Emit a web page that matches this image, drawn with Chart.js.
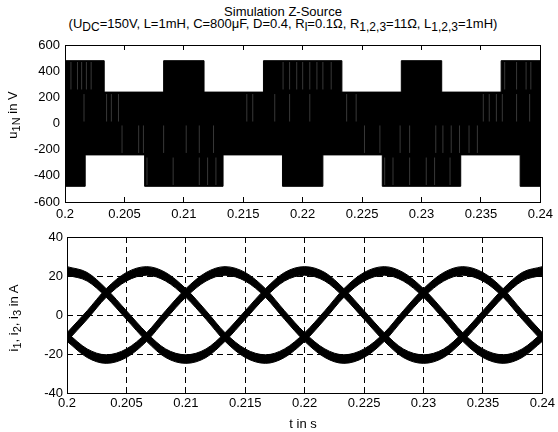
<!DOCTYPE html>
<html>
<head>
<meta charset="utf-8">
<script src="https://cdn.jsdelivr.net/npm/chart.js@4.4.1/dist/chart.umd.min.js"></script>
<style>
  body { margin: 0; background: #fff; }
  #figure { position: relative; width: 558px; height: 432px; background: #fff; overflow: hidden; }
  #figure canvas { position: absolute; left: 0; }
  .lbl { position: absolute; font-family: 'Liberation Sans', Arial, Helvetica, sans-serif; font-size: 13px; line-height: 13px; color: #000; white-space: nowrap; }
  .sub { font-size: 11px; position: relative; top: 3px; }
  .title .sub { font-size: 12px; }
  .rot { transform: translate(-50%, -50%) rotate(-90deg); }
</style>
</head>
<body>
<div id="figure">
  <div class="lbl title" style="left:0; width:566px; top:6px; line-height:12px; text-align:center;">
    Simulation Z-Source<br>
    (U<span class="sub">DC</span>=150V, L=1mH, C=800μF, D=0.4, R<span class="sub">l</span>=0.1Ω, R<span class="sub">1,2,3</span>=11Ω, L<span class="sub">1,2,3</span>=1mH)
  </div>
  <canvas id="voltage" width="558" height="222" style="top:0"></canvas>
  <canvas id="current" width="558" height="210" style="top:222px"></canvas>
  <div class="lbl rot" style="left:13px; top:115px;">u<span class="sub">1N</span> in V</div>
  <div class="lbl rot" style="left:14px; top:318px;">i<span class="sub">1</span>, i<span class="sub">2</span>, i<span class="sub">3</span> in A</div>
  <div class="lbl" style="left:303px; top:417px; transform:translateX(-50%);">t in s</div>
</div>
<script>
// axis ticks
const timeTicks = [0.2, 0.205, 0.21, 0.215, 0.22, 0.225, 0.23, 0.235, 0.24];
const voltTicks = [-600, -400, -200, 0, 200, 400, 600];
const ampTicks = [-40, -20, 0, 20, 40];

// phase voltage u1N: outer edges of the PWM pattern (value holds from its time on)
const uTopT = [0.2, 0.2033, 0.2083, 0.2117, 0.2167, 0.2233, 0.2283, 0.2317, 0.2367, 0.24];
const uTopV = [480, 240, 480, 240, 480, 240, 480, 240, 480, 480];
const uBotT = [0.2, 0.2017, 0.2067, 0.2133, 0.2183, 0.2217, 0.2267, 0.2333, 0.2383, 0.24];
const uBotV = [-480, -240, -480, -240, -480, -240, -480, -240, -480, -480];

// sparse switching gaps inside the pattern, grouped by voltage band
const gaps480 = [0.2005, 0.20105, 0.2014, 0.2018, 0.2022, 0.21835, 0.2189, 0.2195, 0.2200, 0.2206, 0.2212, 0.2217, 0.2224, 0.2370, 0.2380, 0.2388, 0.2392];
const gaps240 = [0.2016, 0.2035, 0.2039, 0.2045, 0.2153, 0.2158, 0.21765, 0.2189, 0.2206, 0.2237, 0.2245, 0.2352, 0.2357, 0.2363, 0.2368, 0.2380, 0.2391];
const gapsM240 = [0.2048, 0.2062, 0.2066, 0.2083, 0.2102, 0.2113, 0.2125, 0.2252, 0.2265, 0.2282, 0.2290, 0.2312, 0.2318, 0.2325, 0.2332, 0.2340, 0.2347];
const gapsM480 = [0.2069, 0.2091, 0.2113, 0.2120, 0.2127, 0.2269, 0.2276, 0.2290, 0.2304, 0.2311, 0.2324];

// phase currents: upper and lower edge of each ripple band
const tSamples = [0.2, 0.2017, 0.2033, 0.205, 0.2067, 0.2083, 0.21, 0.2117, 0.2133, 0.215, 0.2167, 0.2183,
  0.22, 0.2217, 0.2233, 0.225, 0.2267, 0.2283, 0.23, 0.2317, 0.2333, 0.235, 0.2367, 0.2383, 0.24];
const i1Hi = [24.8, 21.8, 13.5, 2.2, -9.1, -17.4, -20.4, -17.4, -9.1, 2.2, 13.5, 21.8, 24.8, 21.8, 13.5, 2.2, -9.1, -17.4, -20.4, -17.4, -9.1, 2.2, 13.5, 21.8, 24.8];
const i1Lo = [20.4, 17.4, 9.1, -2.2, -13.5, -21.8, -24.8, -21.8, -13.5, -2.2, 9.1, 17.4, 20.4, 17.4, 9.1, -2.2, -13.5, -21.8, -24.8, -21.8, -13.5, -2.2, 9.1, 17.4, 20.4];
const i2Hi = [-9.1, 2.2, 13.5, 21.8, 24.8, 21.8, 13.5, 2.2, -9.1, -17.4, -20.4, -17.4, -9.1, 2.2, 13.5, 21.8, 24.8, 21.8, 13.5, 2.2, -9.1, -17.4, -20.4, -17.4, -9.1];
const i2Lo = [-13.5, -2.2, 9.1, 17.4, 20.4, 17.4, 9.1, -2.2, -13.5, -21.8, -24.8, -21.8, -13.5, -2.2, 9.1, 17.4, 20.4, 17.4, 9.1, -2.2, -13.5, -21.8, -24.8, -21.8, -13.5];
const i3Hi = [-9.1, -17.4, -20.4, -17.4, -9.1, 2.2, 13.5, 21.8, 24.8, 21.8, 13.5, 2.2, -9.1, -17.4, -20.4, -17.4, -9.1, 2.2, 13.5, 21.8, 24.8, 21.8, 13.5, 2.2, -9.1];
const i3Lo = [-13.5, -21.8, -24.8, -21.8, -13.5, -2.2, 9.1, 17.4, 20.4, 17.4, 9.1, -2.2, -13.5, -21.8, -24.8, -21.8, -13.5, -2.2, 9.1, 17.4, 20.4, 17.4, 9.1, -2.2, -13.5];

const FONT = { family: "'Liberation Sans', Arial, Helvetica, sans-serif", size: 13 };

const pts = (xs, ys) => xs.map((x, k) => ({ x, y: ys[k] }));

// vertical segments from lo to hi at each time, separated by gaps
function streaks(times, lo, hi) {
  const out = [];
  times.forEach(t => { out.push({ x: t, y: lo }, { x: t, y: hi }, { x: t, y: null }); });
  return out;
}

const crisp = p => Math.round(p - 0.5) + 0.5;

// box around the plot area with inward tick marks on all four sides
const frame = {
  id: 'frame',
  afterDatasetsDraw(chart) {
    const { ctx, chartArea: a, scales: { x, y } } = chart;
    const len = 5;
    ctx.save();
    ctx.strokeStyle = '#000';
    ctx.lineWidth = 1;
    ctx.setLineDash([]);
    ctx.beginPath();
    x.ticks.forEach(t => {
      const px = crisp(x.getPixelForValue(t.value));
      ctx.moveTo(px, a.bottom); ctx.lineTo(px, a.bottom - len);
      ctx.moveTo(px, a.top); ctx.lineTo(px, a.top + len);
    });
    y.ticks.forEach(t => {
      const py = crisp(y.getPixelForValue(t.value));
      ctx.moveTo(a.left, py); ctx.lineTo(a.left + len, py);
      ctx.moveTo(a.right, py); ctx.lineTo(a.right - len, py);
    });
    ctx.stroke();
    const l = crisp(a.left), r = crisp(a.right), tp = crisp(a.top), b = crisp(a.bottom);
    ctx.strokeRect(l, tp, r - l, b - tp);
    ctx.restore();
  }
};

function axes(opts) {
  return {
    x: {
      type: 'linear', min: 0.2, max: 0.24,
      afterBuildTicks: s => { s.ticks = timeTicks.map(v => ({ value: v })); },
      afterFit: s => { s.height = opts.xHeight; },
      ticks: { color: '#000', font: FONT, padding: opts.xPad, autoSkip: false, maxRotation: 0, callback: v => String(v) },
      grid: opts.grid ? { color: '#000', lineWidth: 1, drawTicks: false } : { display: false, drawTicks: false },
      border: { display: false, dash: [6, 4] }
    },
    y: {
      type: 'linear', min: opts.yTicks[0], max: opts.yTicks[opts.yTicks.length - 1],
      afterBuildTicks: s => { s.ticks = opts.yTicks.map(v => ({ value: v })); },
      afterFit: s => { s.width = opts.yWidth; },
      ticks: { color: '#000', font: FONT, padding: opts.yPad, autoSkip: false, callback: v => String(v) },
      grid: opts.grid ? { color: '#000', lineWidth: 1, drawTicks: false } : { display: false, drawTicks: false },
      border: { display: false, dash: [6, 4] }
    }
  };
}

const common = {
  responsive: false,
  animation: false,
  events: [],
  plugins: { legend: { display: false }, tooltip: { enabled: false } }
};

const streakStyle = { borderColor: '#383838', borderWidth: 1, pointRadius: 0, spanGaps: false, fill: false, order: 0 };

// upper plot: PWM phase voltage (upper fill runs a little past zero so the two areas overlap)
new Chart(document.getElementById('voltage'), {
  type: 'line',
  data: {
    datasets: [
      { data: pts(uTopT, uTopV), stepped: true, fill: { value: -20 }, backgroundColor: '#000', borderColor: '#000', borderWidth: 1, pointRadius: 0, order: 1 },
      { data: pts(uBotT, uBotV), stepped: true, fill: 'origin', backgroundColor: '#000', borderColor: '#000', borderWidth: 1, pointRadius: 0, order: 1 },
      { data: streaks(gaps480, 260, 470), ...streakStyle },
      { data: streaks(gaps240, 15, 225), ...streakStyle },
      { data: streaks(gapsM240, -225, -15), ...streakStyle },
      { data: streaks(gapsM480, -470, -260), ...streakStyle }
    ]
  },
  options: {
    ...common,
    layout: { padding: { top: 45, right: 17, bottom: 0, left: 0 } },
    scales: axes({ yTicks: voltTicks, yWidth: 65, xHeight: 20, xPad: 5, yPad: 5, grid: false })
  },
  plugins: [frame]
});

// lower plot: three phase currents as ripple bands
const band = (hi, lo) => [
  { data: pts(tSamples, hi), fill: '+1', backgroundColor: '#000', borderColor: '#000', borderWidth: 1, pointRadius: 0, cubicInterpolationMode: 'monotone' },
  { data: pts(tSamples, lo), fill: false, borderColor: '#000', borderWidth: 1, pointRadius: 0, cubicInterpolationMode: 'monotone' }
];

new Chart(document.getElementById('current'), {
  type: 'line',
  data: { datasets: [...band(i1Hi, i1Lo), ...band(i2Hi, i2Lo), ...band(i3Hi, i3Lo)] },
  options: {
    ...common,
    layout: { padding: { top: 15, right: 15, bottom: 0, left: 0 } },
    scales: axes({ yTicks: ampTicks, yWidth: 67, xHeight: 39, xPad: 3, yPad: 4, grid: true })
  },
  plugins: [frame]
});
</script>
</body>
</html>
